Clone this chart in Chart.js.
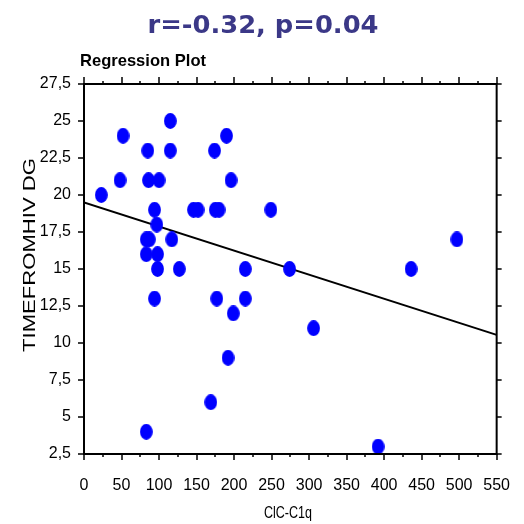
<!DOCTYPE html>
<html>
<head>
<meta charset="utf-8">
<script src="https://cdn.jsdelivr.net/npm/chart.js@4.4.1/dist/chart.umd.min.js"></script>
<style>
  html, body { margin: 0; padding: 0; background: #fff; }
  #wrap { width: 524px; height: 524px; }
</style>
</head>
<body>
<div id="wrap"><canvas id="regChart" width="524" height="524"></canvas></div>
<script>
// data
const cicC1q = [23, 48, 52, 85, 86, 100, 115, 115, 94, 97, 83, 87, 117, 83, 98, 98, 127,
                146, 152, 174, 190, 196, 175, 180, 249, 215, 274, 94, 177, 215, 199, 192,
                169, 83, 306, 436, 497, 392];
const timeFromHiv = [20, 21, 24, 23, 21, 21, 25, 23, 19, 18, 17, 17, 17, 16, 16, 15, 15,
                     19, 19, 23, 24, 21, 19, 19, 19, 15, 15, 13, 13, 13, 12, 9,
                     6, 4, 11, 15, 17, 3];
const fitX = [0, 550];
const fitY = [19.5, 10.55];
const xTicks = [0, 50, 100, 150, 200, 250, 300, 350, 400, 450, 500, 550];
const yTicks = [2.5, 5, 7.5, 10, 12.5, 15, 17.5, 20, 22.5, 25, 27.5];

const titleText = 'r=-0.32, p=0.04';
const subTitle = 'Regression Plot';
const xTitle = 'ClC-C1q';
const yTitle = 'TIMEFROMHIV DG';

// oval marker like the original
function makeDot() {
    const c = document.createElement('canvas');
    c.width = 13; c.height = 16;
    const g = c.getContext('2d');
    g.fillStyle = '#0000ff';
    g.beginPath();
    g.ellipse(6.5, 8, 6.4, 7.9, 0, 0, Math.PI * 2);
    g.fill();
    return c;
}

const points = cicC1q.map((v, i) => ({ x: v, y: timeFromHiv[i] }));
const fitLine = fitX.map((v, i) => ({ x: v, y: fitY[i] }));

const axisFont = { family: 'Liberation Sans, Arial, sans-serif', size: 16 };

// draw text squeezed/stretched to a given width
function fitText(ctx, txt, x, y, w) {
    const m = ctx.measureText(txt).width;
    ctx.save();
    ctx.translate(x, y);
    ctx.scale(w / m, 1);
    ctx.fillText(txt, 0, 0);
    ctx.restore();
}

// text + frame extras
const extras = {
    id: 'extras',
    afterDraw(chart) {
        const ctx = chart.ctx;
        const a = chart.chartArea;
        const xs = chart.scales.x;
        const ys = chart.scales.y;
        ctx.save();
        ctx.strokeStyle = '#000';
        ctx.lineWidth = 2;
        // frame
        ctx.strokeRect(a.left, a.top, a.right - a.left, a.bottom - a.top);
        ctx.lineWidth = 1.5;
        // x ticks top / bottom, minor every 25
        for (let v = 0; v <= 550; v += 25) {
            const px = Math.round(xs.getPixelForValue(v));
            const major = v % 50 === 0;
            ctx.beginPath();
            ctx.moveTo(px, a.top);
            ctx.lineTo(px, a.top - (major ? 7 : 3));
            ctx.moveTo(px, a.bottom);
            ctx.lineTo(px, a.bottom + (major ? 6 : 3));
            ctx.stroke();
        }
        // y ticks left / right
        yTicks.forEach(v => {
            const py = Math.round(ys.getPixelForValue(v));
            ctx.beginPath();
            ctx.moveTo(a.right, py);
            ctx.lineTo(a.right + 5, py);
            ctx.moveTo(a.left, py);
            ctx.lineTo(a.left - 6, py);
            ctx.stroke();
        });

        // titles
        ctx.textAlign = 'center';
        ctx.textBaseline = 'alphabetic';
        ctx.fillStyle = '#3b3887';
        ctx.font = 'bold 25px "DejaVu Sans", sans-serif';
        fitText(ctx, titleText, 263, 33, 231);

        ctx.fillStyle = '#000';
        ctx.font = 'bold 17px "Liberation Sans", Arial, sans-serif';
        fitText(ctx, subTitle, 143, 66, 126);

        ctx.font = '17px "Liberation Sans", Arial, sans-serif';
        fitText(ctx, xTitle, 288, 518, 48);

        ctx.translate(35, 255);
        ctx.rotate(-Math.PI / 2);
        ctx.font = '17px "Liberation Sans", Arial, sans-serif';
        fitText(ctx, yTitle, 0, 0, 194);
        ctx.restore();
    }
};

new Chart(document.getElementById('regChart'), {
    type: 'scatter',
    data: {
        datasets: [
            {
                label: 'Regression',
                type: 'line',
                data: fitLine,
                borderColor: '#000',
                borderWidth: 2,
                pointRadius: 0,
                fill: false,
                order: 2
            },
            {
                label: 'Points',
                data: points,
                pointStyle: makeDot(),
                pointRadius: 7,
                borderWidth: 0,
                order: 1
            }
        ]
    },
    options: {
        responsive: false,
        animation: false,
        events: [],
        layout: { padding: { top: 84, right: 24, left: 0, bottom: 0 } },
        plugins: {
            legend: { display: false },
            tooltip: { enabled: false }
        },
        scales: {
            x: {
                type: 'linear',
                min: 0,
                max: 550,
                afterFit: s => { s.height = 70; },
                afterBuildTicks: s => { s.ticks = xTicks.map(v => ({ value: v })); },
                grid: { display: false },
                border: { display: false },
                ticks: { color: '#000', font: axisFont, padding: 14, maxRotation: 0, autoSkip: false }
            },
            y: {
                type: 'linear',
                min: 2.5,
                max: 27.5,
                afterFit: s => { s.width = 84; },
                afterBuildTicks: s => { s.ticks = yTicks.map(v => ({ value: v })); },
                grid: { display: false },
                border: { display: false },
                ticks: {
                    color: '#000',
                    font: axisFont,
                    padding: 5,
                    autoSkip: false,
                    callback: v => String(v).replace('.', ',')
                }
            }
        }
    },
    plugins: [extras]
});
</script>
</body>
</html>
